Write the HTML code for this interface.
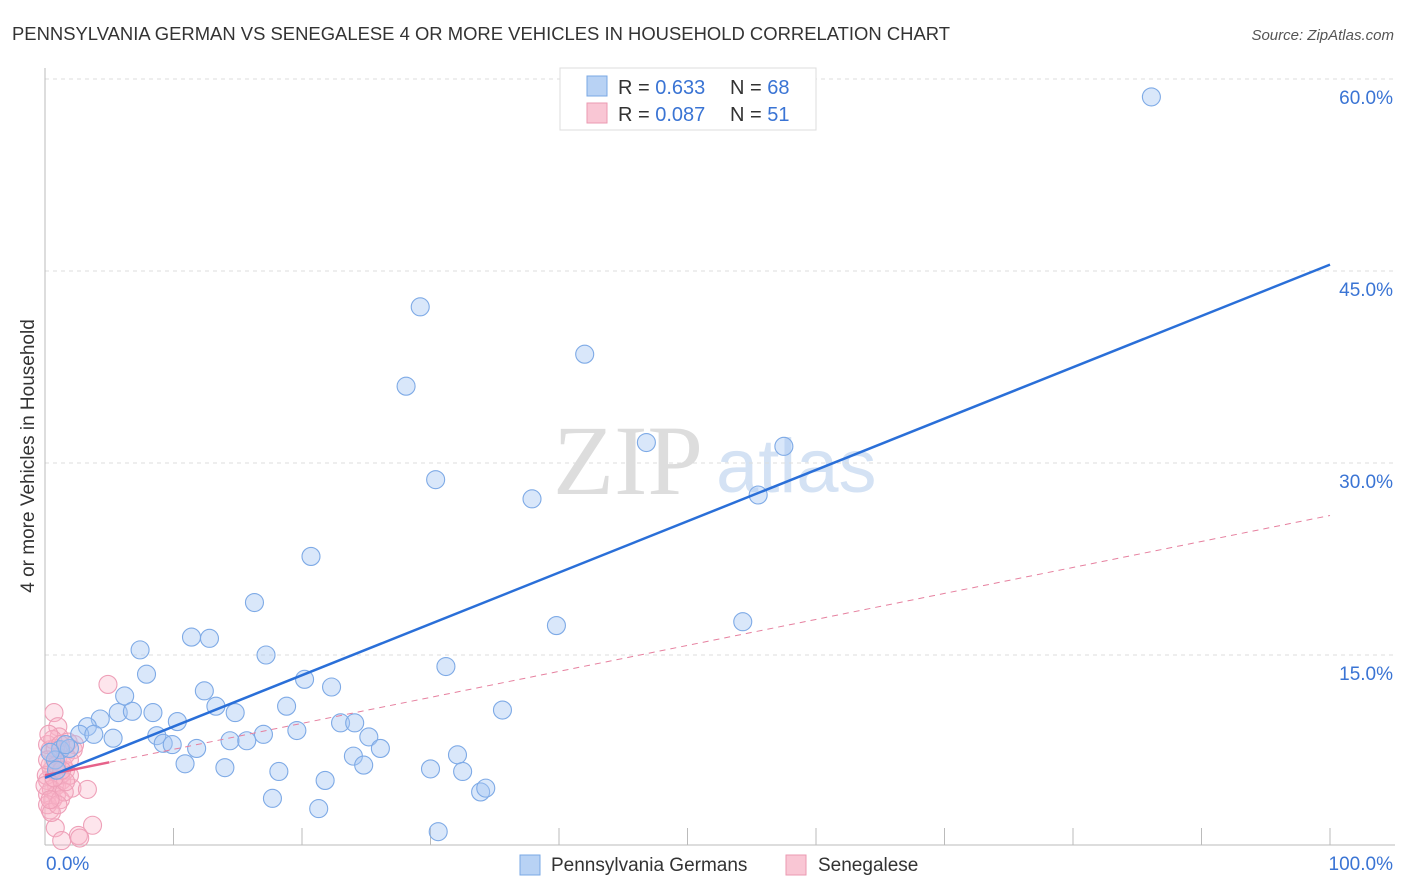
<!DOCTYPE html>
<html><head><meta charset="utf-8"><style>
body{margin:0;background:#fff;font-family:"Liberation Sans",sans-serif}
svg{display:block}
</style></head><body>
<svg id="c" width="1406" height="892" xmlns="http://www.w3.org/2000/svg">
<text x="12" y="40" font-size="18" fill="#333" textLength="938" lengthAdjust="spacingAndGlyphs">PENNSYLVANIA GERMAN VS SENEGALESE 4 OR MORE VEHICLES IN HOUSEHOLD CORRELATION CHART</text>
<text x="1394" y="40" font-size="15" fill="#555" font-style="italic" text-anchor="end">Source: ZipAtlas.com</text>
<text x="553" y="494" font-size="100" fill="#ddd" font-family="Liberation Serif,serif">ZIP</text>
<text x="716" y="492" font-size="76" fill="#d4e2f4">atlas</text>
<text transform="translate(34,456) rotate(-90)" font-size="19" fill="#333" text-anchor="middle">4 or more Vehicles in Household</text>
<g id="grid"></g><g id="pts"></g><g id="lines"></g>
<g>
<rect x="560" y="68" width="256" height="62" fill="#fff" stroke="#ddd"/>
<rect x="587" y="76" width="20" height="20" fill="#b8d2f4" stroke="#7aa8e4"/>
<rect x="587" y="103" width="20" height="20" fill="#f9c6d4" stroke="#eb9ab2"/>
<text x="618" y="94" font-size="20" fill="#333">R = <tspan fill="#3a74d4">0.633</tspan></text>
<text x="730" y="94" font-size="20" fill="#333">N = <tspan fill="#3a74d4">68</tspan></text>
<text x="618" y="121" font-size="20" fill="#333">R = <tspan fill="#3a74d4">0.087</tspan></text>
<text x="730" y="121" font-size="20" fill="#333">N = <tspan fill="#3a74d4"> 51</tspan></text>
</g>
<g>
<rect x="520" y="855" width="20" height="20" fill="#b8d2f4" stroke="#7aa8e4"/>
<text x="551" y="871" font-size="19" fill="#333">Pennsylvania Germans</text>
<rect x="786" y="855" width="20" height="20" fill="#f9c6d4" stroke="#eb9ab2"/>
<text x="818" y="871" font-size="19" fill="#333">Senegalese</text>
</g>
</svg>
<script>
const yTicks=[15,30,45,60];
const yTickLabels=["15.0%","30.0%","45.0%","60.0%"];
const xEndLabels=["0.0%","100.0%"];
const blueX=[86.1,29.2,42.0,28.1,46.8,57.5,30.4,37.9,55.5,20.7,16.3,39.8,54.3,11.4,12.8,7.4,17.2,7.9,31.2,20.2,22.3,6.2,12.4,13.3,18.8,5.7,6.8,8.4,14.8,35.6,10.3,4.3,3.3,2.7,3.8,5.3,8.7,17.0,19.6,23.0,24.1,25.2,9.2,9.9,11.8,14.4,15.7,26.1,32.1,24.0,10.9,24.8,14.0,18.2,30.0,32.5,21.8,33.9,34.3,17.7,21.3,30.6,1.2,1.9,0.8,1.6,0.4,0.9];
const blueY=[58.6,42.2,38.5,36.0,31.6,31.3,28.7,27.2,27.5,22.7,19.1,17.3,17.6,16.4,16.3,15.4,15.0,13.5,14.1,13.1,12.5,11.8,12.2,11.0,11.0,10.5,10.6,10.5,10.5,10.7,9.8,10.0,9.4,8.8,8.8,8.5,8.7,8.8,9.1,9.7,9.7,8.6,8.1,8.0,7.7,8.3,8.3,7.7,7.2,7.1,6.5,6.4,6.2,5.9,6.1,5.9,5.2,4.3,4.6,3.8,3.0,1.2,7.6,7.7,6.8,8.0,7.4,6.0];
const pinkX=[0.7,4.9,1.0,1.1,1.8,2.2,0.4,0.8,0.5,1.2,0.2,0.9,1.3,1.6,2.1,3.3,0.2,0.6,0.4,0.8,3.7,1.3,2.6,2.7,0.4,1.0,1.4,0.1,0.5,0.9,0.2,1.2,1.9,1.6,0.2,0.6,2.3,1.9,0.0,0.5,1.5,0.8,0.3,1.0,1.2,0.2,1.6,0.7,0.9,0.4,1.3];
const pinkY=[10.5,12.7,9.4,8.6,8.2,7.6,7.6,6.8,6.0,5.6,5.2,4.8,5.2,6.0,4.6,4.5,4.1,3.7,2.9,1.5,1.7,0.5,0.9,0.7,6.4,7.0,6.4,5.6,4.5,4.1,3.3,3.7,5.6,7.2,8.0,8.4,8.0,6.8,4.8,2.7,4.3,7.7,8.8,3.3,8.0,6.8,5.1,5.4,6.4,3.7,6.0];
const blueTrend=[5.4,45.5];
const pinkTrend=[5.6,25.9];
const NS="http://www.w3.org/2000/svg";
const X=v=>45+v*12.85, Y=v=>847-v*12.8;
function mk(t,a,p){const e=document.createElementNS(NS,t);for(const k in a)e.setAttribute(k,a[k]);p.appendChild(e);return e;}
const g=document.getElementById('grid');
yTicks.forEach((t,i)=>{
 const l=mk('line',{x1:45,x2:1395,y1:Y(t),y2:Y(t),stroke:'#ddd','stroke-dasharray':'4,4'},g);
 
 
 const tx=mk('text',{x:1393,y:Y(t)+25,'font-size':19,fill:'#3a74d4','text-anchor':'end'},g);
 tx.textContent=yTickLabels[i];
 
 
});
let ax=mk('line',{x1:45,x2:45,y1:68,y2:845,stroke:'#bbb'},g);


ax=mk('line',{x1:45,x2:1395,y1:845,y2:845,stroke:'#bbb'},g);


for(let i=1;i<=10;i++){
 const t=mk('line',{x1:X(i*10),x2:X(i*10),y1:828,y2:845,stroke:'#bbb'},g);
 
 
}
[[0,'start',46],[100,'end',1393]].forEach((d,i)=>{
 const tx=mk('text',{x:d[2],y:870,'font-size':19,fill:'#3a74d4','text-anchor':d[1]},g);
 tx.textContent=xEndLabels[i];
 
 
});
const p=document.getElementById('pts');
pinkX.forEach((v,i)=>{
 const c=mk('circle',{cx:X(v),cy:Y(pinkY[i]),r:9,fill:'rgba(248,180,200,0.35)',stroke:'#eea0b8','stroke-width':1.1},p);
 
 
});
blueX.forEach((v,i)=>{
 const c=mk('circle',{cx:X(v),cy:Y(blueY[i]),r:9,fill:'rgba(164,198,242,0.42)',stroke:'#7eaae6','stroke-width':1.1},p);
 
 
});
const L=document.getElementById('lines');
let ln=mk('line',{x1:X(0),y1:Y(pinkTrend[0]),x2:X(100),y2:Y(pinkTrend[1]),stroke:'#e6809f','stroke-width':1,'stroke-dasharray':'6,5'},L);


ln=mk('line',{x1:X(0),y1:Y(pinkTrend[0]),x2:X(5),y2:Y(pinkTrend[0]+(pinkTrend[1]-pinkTrend[0])*0.05),stroke:'#e6628a','stroke-width':2.5},L);


ln=mk('line',{x1:X(0),y1:Y(blueTrend[0]),x2:X(100),y2:Y(blueTrend[1]),stroke:'#2a6fd8','stroke-width':2.5},L);


</script>
</body></html>
